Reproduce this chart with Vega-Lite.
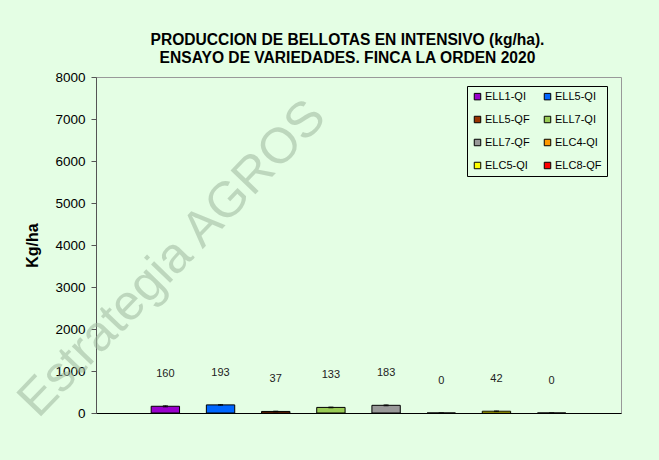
{
  "$schema": "https://vega.github.io/schema/vega-lite/v6.json",
  "width": 525,
  "height": 336,
  "autosize": {"type": "none"},
  "padding": {"left": 96, "top": 77, "right": 38, "bottom": 47},
  "background": "#E4FEE4",
  "title": {
    "text": ["PRODUCCION DE BELLOTAS EN INTENSIVO (kg/ha).", "ENSAYO DE VARIEDADES. FINCA LA ORDEN 2020"],
    "font": "Liberation Sans",
    "fontSize": 15.6,
    "fontWeight": "bold",
    "color": "#000000",
    "anchor": "middle",
    "dx": -11,
    "offset": 3,
    "lineHeight": 18
  },
  "data": {
    "values": [
      {"variedad": "ELL1-QI", "kg_ha": 160, "sd": 15},
      {"variedad": "ELL5-QI", "kg_ha": 193, "sd": 10},
      {"variedad": "ELL5-QF", "kg_ha": 37, "sd": 8},
      {"variedad": "ELL7-QI", "kg_ha": 133, "sd": 10},
      {"variedad": "ELL7-QF", "kg_ha": 183, "sd": 12},
      {"variedad": "ELC4-QI", "kg_ha": 0, "sd": 0},
      {"variedad": "ELC5-QI", "kg_ha": 42, "sd": 8},
      {"variedad": "ELC8-QF", "kg_ha": 0, "sd": 0}
    ]
  },
  "encoding": {
    "x": {
      "field": "variedad",
      "type": "nominal",
      "sort": null,
      "scale": {"paddingInner": 0.486, "paddingOuter": 1.243},
      "axis": {"labels": false, "ticks": false, "title": null, "domainColor": "#000000", "domainWidth": 1}
    },
    "y": {
      "field": "kg_ha",
      "type": "quantitative",
      "scale": {"domain": [0, 8000], "nice": false},
      "axis": {
        "values": [0, 1000, 2000, 3000, 4000, 5000, 6000, 7000, 8000],
        "grid": false,
        "title": "Kg/ha",
        "titleFont": "Liberation Sans",
        "titleFontSize": 16,
        "titleFontWeight": "bold",
        "titleColor": "#000000",
        "titlePadding": 14,
        "labelFont": "Liberation Sans",
        "labelFontSize": 13.5,
        "labelColor": "#000000",
        "labelPadding": 6,
        "tickSize": 5,
        "tickColor": "#555555",
        "domainColor": "#555555",
        "format": "d"
      }
    }
  },
  "layer": [
    {
      "mark": {"type": "text", "text": "Estrategia AGROS", "font": "Liberation Sans", "fontSize": 50, "angle": -46, "fill": "#9fb89f", "opacity": 0.55, "dx": 10},
      "transform": [{"filter": "datum.variedad == 'ELL1-QI'"}],
      "encoding": {
        "x": {"datum": "ELL1-QI"},
        "y": {"datum": 3500}
      }
    },
    {
      "mark": {"type": "bar", "stroke": "#000000", "strokeWidth": 1},
      "encoding": {
        "color": {
          "field": "variedad",
          "type": "nominal",
          "scale": {
            "domain": ["ELL1-QI", "ELL5-QF", "ELL7-QF", "ELC5-QI", "ELL5-QI", "ELL7-QI", "ELC4-QI", "ELC8-QF"],
            "range": ["#9900CC", "#993300", "#999999", "#FFFF00", "#0066FF", "#99CC55", "#FF9900", "#FF0000"]
          },
          "legend": {
            "title": null,
            "orient": "none",
            "legendX": 371,
            "legendY": 9,
            "columns": 2,
            "columnPadding": 12,
            "rowPadding": 11,
            "padding": 5,
            "strokeColor": "#000000",
            "symbolType": "square",
            "symbolSize": 42,
            "symbolStrokeColor": "#000000",
            "symbolStrokeWidth": 1,
            "labelFont": "Liberation Sans",
            "labelFontSize": 11,
            "labelColor": "#000000",
            "labelOffset": 2
          }
        }
      }
    },
    {
      "mark": {"type": "errorbar", "ticks": {"color": "#000000", "size": 5}, "rule": {"color": "#000000"}},
      "encoding": {
        "y": {"field": "kg_ha", "type": "quantitative"},
        "yError": {"field": "sd"}
      }
    },
    {
      "mark": {"type": "text", "font": "Liberation Sans", "fontSize": 11, "color": "#222222", "dy": -32},
      "encoding": {
        "text": {"field": "kg_ha", "type": "quantitative"}
      }
    }
  ],
  "config": {
    "view": {"stroke": "#999999", "strokeWidth": 1}
  }
}
